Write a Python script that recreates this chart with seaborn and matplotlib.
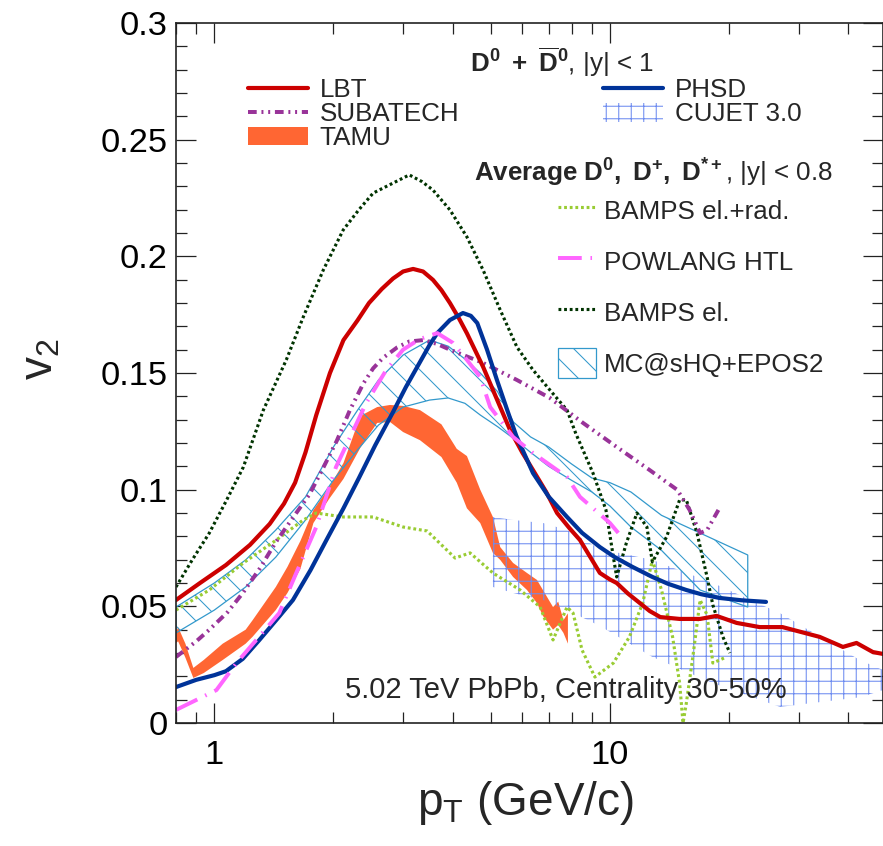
import numpy as np
import pandas as pd
import matplotlib
matplotlib.use("Agg")
import matplotlib.pyplot as plt
from matplotlib.patches import Patch
import seaborn as sns
from matplotlib.ticker import FixedLocator, NullFormatter, MultipleLocator, FuncFormatter, LogLocator

# ---------------- data ----------------
lbt_x = [0.80, 0.92, 1.07, 1.23, 1.38, 1.50, 1.60, 1.70, 1.81, 1.96, 2.12, 2.30, 2.46, 2.65, 2.83, 3.00,
         3.18, 3.37, 3.57, 3.75, 3.94, 4.15, 4.35, 4.78, 5.28, 5.59, 6.00, 6.39, 6.90, 7.35, 7.90, 8.40,
         9.00, 9.43, 10.0, 10.4, 11.1, 11.9, 12.6, 13.4, 15.0, 16.9, 18.6, 20.9, 23.9, 27.3, 33.9, 38.8,
         42.0, 46.2, 49.0]
lbt_y = [0.0527, 0.0600, 0.0677, 0.0763, 0.0853, 0.0940, 0.1030, 0.1160, 0.1320, 0.1500, 0.1641, 0.1725,
         0.1800, 0.1860, 0.1905, 0.1935, 0.1946, 0.1935, 0.1899, 0.1855, 0.1800, 0.1735, 0.1670, 0.1526,
         0.1354, 0.1256, 0.1160, 0.1084, 0.0990, 0.0900, 0.0835, 0.0784, 0.0700, 0.0643, 0.0615, 0.0600,
         0.0555, 0.0514, 0.0480, 0.0454, 0.0446, 0.0446, 0.0459, 0.0429, 0.0411, 0.0411, 0.0369, 0.0326,
         0.0343, 0.0304, 0.0296]

phsd_x = [0.80, 0.90, 1.00, 1.07, 1.18, 1.30, 1.44, 1.58, 1.75, 1.92, 2.12, 2.32, 2.55, 2.83, 3.05, 3.31,
          3.50, 3.66, 3.94, 4.25, 4.45, 4.62, 4.89, 5.18, 5.50, 5.80, 6.39, 7.00, 7.79, 8.50, 9.43, 10.3,
          11.4, 12.8, 14.0, 15.6, 17.0, 18.9, 21.5, 24.8]
phsd_y = [0.0154, 0.0185, 0.0205, 0.0222, 0.0275, 0.0356, 0.0445, 0.0527, 0.0655, 0.0784, 0.0920, 0.1050,
          0.1190, 0.1333, 0.1440, 0.1547, 0.1620, 0.1671, 0.1727, 0.1757, 0.1745, 0.1714, 0.1600, 0.1470,
          0.1341, 0.1230, 0.1071, 0.0970, 0.0883, 0.0815, 0.0754, 0.0710, 0.0669, 0.0626, 0.0597, 0.0570,
          0.0552, 0.0536, 0.0526, 0.0519]

sub_x = [0.80, 0.90, 0.97, 1.08, 1.18, 1.30, 1.43, 1.58, 1.74, 1.88, 2.04, 2.20, 2.38, 2.52, 2.67, 2.90,
         3.11, 3.37, 3.65, 3.94, 4.78, 5.82, 7.05, 8.55, 10.4, 12.6, 14.8, 15.9, 16.9, 17.6, 18.8]
sub_y = [0.0283, 0.0350, 0.0399, 0.0475, 0.0557, 0.0660, 0.0775, 0.0880, 0.0980, 0.1090, 0.1210, 0.1340,
         0.1455, 0.1520, 0.1565, 0.1610, 0.1635, 0.1641, 0.1625, 0.1600, 0.1543, 0.1470, 0.1393, 0.1286,
         0.1183, 0.1084, 0.0999, 0.0913, 0.0814, 0.0827, 0.0913]

pow_x = [0.80, 1.012, 1.137, 1.277, 1.459, 1.611, 1.81, 2.03, 2.42, 2.72, 3.0, 3.30, 3.66, 4.01, 4.35, 4.70,
         4.98, 5.69, 6.39, 7.79, 8.40, 10.0, 10.6]
pow_y = [0.0056, 0.0141, 0.0257, 0.0356, 0.0471, 0.0643, 0.0840, 0.1097, 0.1371, 0.1513, 0.1600, 0.1645,
         0.1671, 0.1629, 0.1556, 0.1483, 0.1354, 0.1226, 0.1157, 0.1054, 0.0969, 0.0857, 0.0806]

bel_x = [0.80, 0.88, 0.971, 1.07, 1.184, 1.33, 1.52, 1.678, 1.885, 2.117, 2.32, 2.52, 2.83, 3.11, 3.35,
         3.57, 3.94, 4.35, 4.78, 5.28, 5.82, 6.39, 7.05, 7.79, 8.2, 9.06, 9.77, 10.2, 10.4, 11.0, 11.7, 12.4,
         12.8, 13.9, 15.0, 15.6, 16.6, 17.6, 18.2, 19.3, 20.1]
bel_y = [0.0583, 0.0700, 0.0814, 0.0950, 0.1097, 0.1341, 0.1556, 0.1740, 0.1941, 0.2113, 0.2200, 0.2271,
         0.2314, 0.2349, 0.2320, 0.2284, 0.2199, 0.2083, 0.1941, 0.1770, 0.1611, 0.1513, 0.1427, 0.1341,
         0.1240, 0.1071, 0.0913, 0.0711, 0.0626, 0.0771, 0.0900, 0.0840, 0.0690, 0.0797, 0.0956, 0.0956,
         0.0814, 0.0626, 0.0506, 0.0369, 0.0300]

belrad_x = [0.80, 0.971, 1.184, 1.434, 1.678, 1.81, 2.117, 2.52, 3.0, 3.45, 4.06, 4.43, 5.06, 5.93, 6.66,
            7.18, 7.79, 8.07, 8.5, 9.16, 10.2, 11.2, 12.1, 12.8, 13.5, 14.4, 15.0, 15.3, 15.6, 16.2, 16.9,
            17.6, 18.2, 19.7]
belrad_y = [0.0484, 0.0570, 0.0686, 0.0784, 0.0870, 0.0900, 0.0883, 0.0883, 0.0840, 0.0823, 0.0707, 0.0729,
            0.0643, 0.0570, 0.0497, 0.0356, 0.0497, 0.0471, 0.0313, 0.0197, 0.0257, 0.0369, 0.0514, 0.0699,
            0.0570, 0.0369, 0.0171, 0.0000, 0.0086, 0.0283, 0.0527, 0.0463, 0.0257, 0.0283]

tamu_x = [0.80, 0.81, 0.845, 0.885, 0.94, 1.05, 1.20, 1.25, 1.43, 1.53, 1.65, 1.78, 1.95, 2.12, 2.34, 2.58,
          2.78, 3.0, 3.31, 3.75, 4.10, 4.35, 4.70, 5.06, 5.28, 5.69, 6.17, 6.54, 6.77, 7.18, 7.40, 7.63, 7.83]
tamu_lo = [0.0343, 0.0350, 0.0280, 0.0193, 0.0214, 0.0270, 0.0340, 0.0370, 0.0484, 0.0557, 0.0660, 0.0857,
           0.0960, 0.1046, 0.1180, 0.1286, 0.1290, 0.1247, 0.1212, 0.1140, 0.1030, 0.0920, 0.0857, 0.0729,
           0.0699, 0.0626, 0.0570, 0.0514, 0.0459, 0.0400, 0.0420, 0.0386, 0.0340]
tamu_hi = [0.0386, 0.0411, 0.0340, 0.0236, 0.0270, 0.0340, 0.0400, 0.0441, 0.0583, 0.0669, 0.0780, 0.0913,
           0.1010, 0.1114, 0.1316, 0.1354, 0.1363, 0.1359, 0.1341, 0.1280, 0.1175, 0.1144, 0.1000, 0.0883,
           0.0754, 0.0686, 0.0643, 0.0613, 0.0570, 0.0497, 0.0520, 0.0441, 0.0470]

mc_x = [0.80, 1.0, 1.2, 1.43, 1.7, 2.0, 2.3, 2.6, 3.0, 3.5, 3.9, 4.3, 4.7, 5.2, 5.7, 6.3, 7.0, 8.0, 9.0,
        10.0, 11.3, 13.5, 16.9, 22.3]
mc_lo = [0.0386, 0.0484, 0.0583, 0.0711, 0.0870, 0.1041, 0.1170, 0.1277, 0.1354, 0.1384, 0.1393, 0.1370,
         0.1320, 0.1270, 0.1220, 0.1160, 0.1100, 0.1040, 0.0990, 0.0930, 0.0840, 0.0740, 0.0570, 0.0497]
mc_hi = [0.0497, 0.0600, 0.0699, 0.0827, 0.0969, 0.1183, 0.1340, 0.1470, 0.1577, 0.1641, 0.1615, 0.1560,
         0.1500, 0.1420, 0.1290, 0.1226, 0.1183, 0.1110, 0.1050, 0.1030, 0.0990, 0.0890, 0.0814, 0.0720]

cujet_x = [5.06, 5.7, 6.78, 7.79, 9.43, 12.8, 18.2, 26.9, 42.8, 49.0]
cujet_lo = [0.0583, 0.0557, 0.0527, 0.0484, 0.0416, 0.0283, 0.0171, 0.0069, 0.0110, 0.0141]
cujet_hi = [0.0883, 0.0870, 0.0857, 0.0827, 0.0746, 0.0699, 0.0600, 0.0471, 0.0270, 0.0227]

y_ticks = [0, 0.05, 0.1, 0.15, 0.2, 0.25, 0.3]
x_ticks = [1, 10]
x_ticklabels = ["1", "10"]

# ---------------- style ----------------
sns.set_theme(style="ticks")
plt.rcParams['font.family'] = ['Liberation Sans', 'DejaVu Sans']
plt.rcParams['mathtext.fontset'] = 'custom'
plt.rcParams['mathtext.rm'] = 'Liberation Sans'
plt.rcParams['mathtext.bf'] = 'Liberation Sans:bold'
plt.rcParams['mathtext.it'] = 'Liberation Sans:italic'
plt.rcParams['hatch.linewidth'] = 0.5

DPI = 150
fig = plt.figure(figsize=(883 / DPI, 846 / DPI), dpi=DPI)
ax = fig.add_axes([176 / 883, 123 / 846, 707 / 883, 700 / 846])
ax.set_xscale('log')

C_LBT = '#CC0000'
C_SUB = '#993399'
C_TAMU = '#FF6633'
C_PHSD = '#003399'
C_CUJET = '#6E8CF0'
C_BELRAD = '#99CC33'
C_POW = '#FF66FF'
C_BEL = '#003300'
C_MC = '#3399CC'

# bands
ax.fill_between(tamu_x, tamu_lo, tamu_hi, facecolor=C_TAMU, edgecolor='none', linewidth=0, zorder=1.5)
ax.fill_between(mc_x, mc_lo, mc_hi, facecolor='none', edgecolor=C_MC, hatch='\\\\', linewidth=0.6, zorder=1.6)
ax.fill_between(cujet_x, cujet_lo, cujet_hi, facecolor='none', edgecolor=C_CUJET, hatch='++', linewidth=0, zorder=1.55)
h_tamu = Patch(facecolor=C_TAMU, edgecolor='none')
h_mc = Patch(facecolor='none', edgecolor=C_MC, hatch='\\\\', linewidth=0.6)
h_cujet = Patch(facecolor='none', edgecolor=C_CUJET, hatch='++', linewidth=0)


def line(x, y, **kw):
    sns.lineplot(x=x, y=y, ax=ax, estimator=None, sort=False, **kw)
    return ax.lines[-1]


h_belrad = line(belrad_x, belrad_y, color=C_BELRAD, linewidth=1.5, linestyle=(0, (0.9, 0.9)), zorder=2.0)
h_bel = line(bel_x, bel_y, color=C_BEL, linewidth=1.5, linestyle=(0, (0.9, 0.9)), zorder=2.1)
h_sub = line(sub_x, sub_y, color=C_SUB, linewidth=1.9, linestyle=(0, (2.2, 1.2, 0.5, 1.2, 0.5, 1.2)), zorder=2.2)
h_lbt = line(lbt_x, lbt_y, color=C_LBT, linewidth=2.0, zorder=2.3)
h_phsd = line(phsd_x, phsd_y, color=C_PHSD, linewidth=2.0, zorder=2.4)
h_pow = line(pow_x, pow_y, color=C_POW, linewidth=1.9, linestyle=(0, (6, 2.2, 0.4, 2.2)), zorder=2.5)

# axes
ax.set_xlim(0.8, 49)
ax.set_ylim(0, 0.3)
ax.xaxis.set_major_locator(FixedLocator(x_ticks))
ax.xaxis.set_major_formatter(FuncFormatter(lambda v, p: x_ticklabels[x_ticks.index(v)] if v in x_ticks else ''))
ax.xaxis.set_minor_locator(LogLocator(base=10, subs=np.arange(2, 10)))
ax.xaxis.set_minor_formatter(NullFormatter())
ax.yaxis.set_major_locator(FixedLocator(y_ticks))
ax.yaxis.set_major_formatter(FuncFormatter(lambda v, p: '%g' % v))
ax.yaxis.set_minor_locator(MultipleLocator(0.01))

ax.tick_params(which='both', direction='in', top=True, right=True, colors='#222222', width=0.6)
ax.tick_params(which='major', length=9.5)
ax.tick_params(which='minor', length=5.2)
ax.tick_params(axis='y', which='major', labelsize=16.5, pad=4, labelcolor='black')
ax.tick_params(axis='x', which='major', labelsize=16.5, pad=8, labelcolor='black')
for s in ax.spines.values():
    s.set_linewidth(0.8)
    s.set_color('#222222')

ax.set_xlabel(r'p$_\mathrm{T}$ (GeV/c)', fontsize=22)
ax.set_ylabel(r'v$_2$', fontsize=22)
ax.xaxis.set_label_coords(0.494, -0.08)
ax.yaxis.set_label_coords(-0.16, 0.52)

# legends
LF = 12.5
legA = ax.legend([h_lbt, h_sub, h_tamu], ['LBT', 'SUBATECH', 'TAMU'], loc='upper left',
                 bbox_to_anchor=(0.1018, 0.921), frameon=False, fontsize=LF, handlelength=2.3,
                 handletextpad=0.46, labelspacing=0.0, borderpad=0, borderaxespad=0, handleheight=0.65)
ax.add_artist(legA)
legB = ax.legend([h_phsd, h_cujet], ['PHSD', 'CUJET 3.0'], loc='upper left',
                 bbox_to_anchor=(0.604, 0.921), frameon=False, fontsize=LF, handlelength=2.3,
                 handletextpad=0.46, labelspacing=0.0, borderpad=0, borderaxespad=0, handleheight=0.75)
ax.add_artist(legB)
legC = ax.legend([h_belrad, h_pow, h_bel, h_mc], ['BAMPS el.+rad.', 'POWLANG HTL', 'BAMPS el.', 'MC@sHQ+EPOS2'],
                 loc='upper left', bbox_to_anchor=(0.540, 0.754), frameon=False, fontsize=LF,
                 handlelength=1.45, handletextpad=0.33, labelspacing=0.8, borderpad=0, borderaxespad=0,
                 handleheight=1.4)

ax.text(0.416, 0.944, r'$\mathbf{D^{0}\ +\ \overline{D}^{0}}$, |y| < 1', transform=ax.transAxes,
        fontsize=LF, ha='left', va='center')
ax.text(0.4215, 0.786, r'$\mathbf{Average\ D^{0},\ D^{+},\ D^{*+}}$, |y| < 0.8', transform=ax.transAxes,
        fontsize=LF, ha='left', va='center')
ax.text(0.239, 0.047, '5.02 TeV PbPb, Centrality 30-50%', transform=ax.transAxes,
        fontsize=14, ha='left', va='center')

fig.savefig('out.png', dpi=DPI)
